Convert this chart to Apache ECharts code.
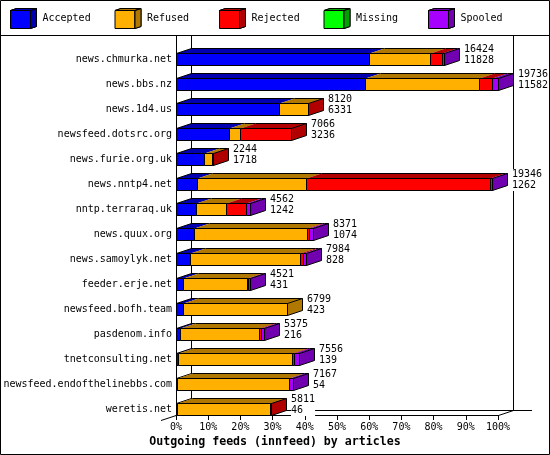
<!DOCTYPE html>
<html>
<head>
<meta charset="utf-8">
<script src="https://cdn.jsdelivr.net/npm/echarts@6/dist/echarts.min.js"></script>
<style>
  html, body { margin: 0; padding: 0; background: #fff; }
  #main { width: 550px; height: 455px; }
</style>
</head>
<body>
<div id="main"></div>
<script>
// innfeed outgoing feeds, articles per peer
const hosts = ['news.chmurka.net', 'news.bbs.nz', 'news.1d4.us', 'newsfeed.dotsrc.org', 'news.furie.org.uk',
  'news.nntp4.net', 'nntp.terraraq.uk', 'news.quux.org', 'news.samoylyk.net', 'feeder.erje.net',
  'newsfeed.bofh.team', 'pasdenom.info', 'tnetconsulting.net', 'newsfeed.endofthelinebbs.com', 'weretis.net'];
const offered  = [16424, 19736, 8120, 7066, 2244, 19346, 4562, 8371, 7984, 4521, 6799, 5375, 7556, 7167, 5811];
const accepted = [11828, 11582, 6331, 3236, 1718, 1262, 1242, 1074, 828, 431, 423, 216, 139, 54, 46];
const refused  = [3750, 7000, 1774, 700, 500, 6690, 1846, 6929, 6788, 3900, 6376, 4852, 6947, 6848, 5720];
const rejected = [710, 790, 15, 3130, 26, 11294, 1229, 164, 164, 110, 0, 164, 143, 0, 45];
const missing  = [0, 0, 0, 0, 0, 0, 0, 0, 0, 0, 0, 0, 0, 0, 0];
const spooled  = [136, 364, 0, 0, 0, 100, 245, 204, 204, 80, 0, 143, 327, 265, 0];
const xTicks = [0, 10, 20, 30, 40, 50, 60, 70, 80, 90, 100];

const names = ['Accepted', 'Refused', 'Rejected', 'Missing', 'Spooled'];
const colors = ['#0000ff', '#ffb000', '#ff0000', '#00ff00', '#a800ff'];
const darks = ['#0000b0', '#b07800', '#b00000', '#00a000', '#7000b0'];
const segs = [accepted, refused, rejected, missing, spooled];

const FONT = 'DejaVu Sans Mono';
const D = 15, DY = 5;   // 3d depth
const maxTotal = Math.max.apply(null, offered);

function pct(v) { return v / maxTotal * 100; }

function segData(k) {
  return hosts.map(function (h, i) {
    var start = 0;
    for (var j = 0; j < k; j++) start += segs[j][i];
    var last = -1;
    for (var j = 0; j < segs.length; j++) if (segs[j][i] > 0) last = j;
    return [pct(start), pct(start + segs[k][i]), i, last === k ? 1 : 0, segs[k][i]];
  });
}

function renderSeg(k) {
  return function (params, api) {
    if (api.value(4) === 0) return;
    var a = api.coord([api.value(0), api.value(2)]);
    var b = api.coord([api.value(1), api.value(2)]);
    var x0 = Math.round(a[0]), x1 = Math.round(b[0]), cy = Math.round(a[1]);
    var t = cy - 6;
    var kids = [
      { type: 'polygon', shape: { points: [[x0 + .5, t + .5], [x0 + D + .5, t - DY + .5], [x1 + D + .5, t - DY + .5], [x1 + .5, t + .5]] },
        style: { fill: darks[k] } },
      { type: 'line', shape: { x1: x0 + D + .5, y1: t - DY + .5, x2: x1 + D + .5, y2: t - DY + .5 },
        style: { stroke: '#000', lineWidth: 1 } },
      { type: 'rect', shape: { x: x0 + .5, y: t + .5, width: x1 - x0, height: 12 },
        style: { fill: colors[k], stroke: '#000', lineWidth: 1 } }
    ];
    if (api.value(0) === 0) {
      kids.push({ type: 'line', shape: { x1: x0 + .5, y1: t + .5, x2: x0 + D + .5, y2: t - DY + .5 },
        style: { stroke: '#000', lineWidth: 1 } });
    }
    if (api.value(3) === 1) {
      kids.push({ type: 'polygon', shape: { points: [[x1 + .5, t + .5], [x1 + D + .5, t - DY + .5], [x1 + D + .5, t + 12 - DY + .5], [x1 + .5, t + 12.5]] },
        style: { fill: darks[k], stroke: '#000', lineWidth: 1 } });
    }
    return { type: 'group', children: kids };
  };
}

function renderLabel(params, api) {
  var p = api.coord([api.value(0), api.value(1)]);
  var cy = Math.round(p[1]);
  return {
    type: 'text',
    style: {
      text: api.value(2) + '\n' + api.value(3),
      x: Math.round(p[0]) + D + 5, y: cy - 15,
      font: '10px "' + FONT + '"', fill: '#000', lineHeight: 11,
      verticalAlign: 'top', backgroundColor: '#fff'
    }
  };
}

const CUBE = 'path://M0 2L20 2L20 20L0 20Z M0 2L6 0L26 0L20 2Z M20 2L26 0L26 18L20 20Z';
const SHADE = 'path://M0 2L6 0L26 0L20 2Z M20 2L26 0L26 18L20 20Z';

// one legend per item so the spacing is even; a second one paints the dark faces
var legends = [];
names.forEach(function (n, k) {
  var base = {
    left: 10 + k * 104.5, top: 8, padding: 0, itemWidth: 26, itemHeight: 20,
    selectedMode: false, itemStyle: { borderColor: '#000', borderWidth: 1 }
  };
  legends.push(Object.assign({}, base, {
    data: [n], icon: CUBE,
    textStyle: { fontFamily: FONT, fontSize: 10, color: '#000', padding: [4, 0, 0, 1] }
  }));
  legends.push(Object.assign({}, base, {
    z: 5, data: [{ name: n, itemStyle: { color: darks[k] } }], icon: SHADE,
    textStyle: { fontFamily: FONT, fontSize: 10, color: 'rgba(0,0,0,0)', padding: [4, 0, 0, 1] }
  }));
});

var L = 176, R = 498, TOP = 36, FY = 415;
var line = function (x1, y1, x2, y2) {
  return { type: 'line', z: 0, shape: { x1: x1, y1: y1, x2: x2, y2: y2 }, style: { stroke: '#000', lineWidth: 1 } };
};

var chart = echarts.init(document.getElementById('main'), null, { renderer: 'canvas' });

var series = names.map(function (n, k) {
  return {
    name: n, type: 'custom', renderItem: renderSeg(k), data: segData(k),
    encode: { x: [0, 1], y: 2 }, itemStyle: { color: colors[k] }, silent: true
  };
});
series.push({
  name: 'totals', type: 'custom', renderItem: renderLabel, silent: true,
  data: hosts.map(function (h, i) {
    var sum = 0;
    segs.forEach(function (s) { sum += s[i]; });
    return [pct(sum), i, offered[i], accepted[i]];
  }),
  encode: { x: 0, y: 1 }
});

var option = {
  backgroundColor: '#fff',
  animation: false,
  title: {
    text: 'Outgoing feeds (innfeed) by articles',
    left: 'center', top: 436, padding: 0,
    textStyle: { fontFamily: FONT, fontSize: 11.6, fontWeight: 'bold', color: '#000' }
  },
  legend: legends,
  grid: { left: L, right: 550 - R, top: 46.5, bottom: 33.5 },
  xAxis: {
    type: 'value', min: xTicks[0], max: xTicks[xTicks.length - 1], interval: xTicks[1] - xTicks[0],
    offset: -6.5,
    axisLine: { show: true, lineStyle: { color: '#000', width: 1 } },
    axisTick: { show: true, length: 5, lineStyle: { color: '#000' } },
    axisLabel: { formatter: '{value}%', fontFamily: FONT, fontSize: 10, color: '#000', margin: 7 },
    splitLine: { show: false }
  },
  yAxis: {
    type: 'category', data: hosts, inverse: true,
    axisLine: { show: false }, axisTick: { show: false },
    axisLabel: { fontFamily: FONT, fontSize: 10, color: '#000', margin: 4 },
    splitLine: { show: false }
  },
  graphic: {
    elements: [
      { type: 'rect', z: 0, shape: { x: 0.5, y: 0.5, width: 549, height: 454 }, style: { fill: 'none', stroke: '#000', lineWidth: 1 } },
      line(0, 35.5, 550, 35.5),
      line(L + .5, TOP, L + .5, FY),
      line(L + D + .5, TOP, L + D + .5, FY - DY),
      line(R + D + .5, TOP, R + D + .5, FY - DY),
      line(L + D, FY - DY + .5, 532, FY - DY + .5),
      line(R + .5, FY + .5, R + D + .5, FY - DY + .5),
      line(161, FY + DY + .5, L + D + .5, FY - DY + .5)
    ]
  },
  series: series
};

chart.setOption(option);
</script>
</body>
</html>
